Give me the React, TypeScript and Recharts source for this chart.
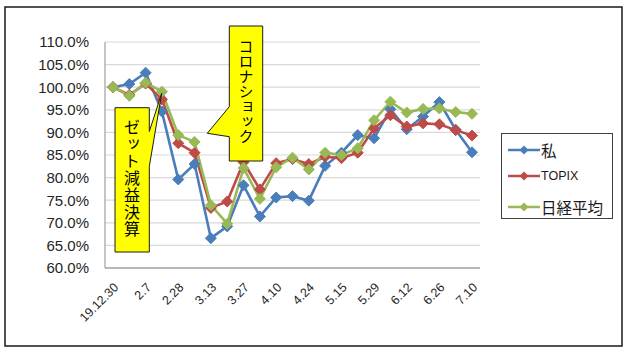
import React from "react";
import { LineChart, Line, XAxis, YAxis, CartesianGrid, Legend } from "recharts";

const categories = ["19.12.30","1.17","2.7","2.14","2.28","3.6","3.13","3.20","3.27","4.3","4.10","4.17","4.24","5.1","5.15","5.22","5.29","6.5","6.12","6.19","6.26","7.3","7.10"];
const mine = [100, 100.7, 103.2, 94.6, 79.6, 83.0, 66.6, 69.2, 78.3, 71.4, 75.6, 75.9, 74.9, 82.6, 85.5, 89.4, 88.7, 95.1, 90.7, 93.5, 96.7, 90.6, 85.6];
const topix = [100, 98.3, 100.8, 97.3, 87.6, 85.5, 73.3, 74.7, 83.4, 77.4, 83.2, 84.1, 83.0, 84.6, 84.3, 85.5, 90.9, 93.8, 91.3, 92.0, 91.8, 90.5, 89.3];
const nikkei = [100, 98.1, 101.0, 99.0, 89.4, 87.9, 73.9, 69.8, 82.1, 75.3, 82.3, 84.4, 81.8, 85.5, 85.0, 86.5, 92.7, 96.8, 94.4, 95.2, 95.3, 94.5, 94.1];
const yTicks = [60, 65, 70, 75, 80, 85, 90, 95, 100, 105, 110];
const seriesNames = ["私", "TOPIX", "日経平均"];
const seriesColors = ["#4a7ebb", "#be4b48", "#98b954"];

const data = categories.map((c, i) => ({ date: c, mine: mine[i], topix: topix[i], nikkei: nikkei[i] }));

const Diamond = (color: string) => (props: any) => {
  const { cx, cy, index } = props;
  if (cx == null || cy == null) return <g key={index} />;
  const r = 5.5;
  return (
    <polygon
      key={index}
      points={`${cx},${cy - r} ${cx + r},${cy} ${cx},${cy + r} ${cx - r},${cy}`}
      fill={color}
      stroke={color}
      strokeWidth={1}
    />
  );
};

const XTick = (props: any) => {
  const { x, y, payload } = props;
  return (
    <g transform={`translate(${x},${y + 6})`}>
      <text x={0} y={0} dy="0.7em" textAnchor="end" transform="rotate(-45)" fontSize={12.5} fill="#262626" fontFamily="'Liberation Sans', Arial, sans-serif">
        {payload.value}
      </text>
    </g>
  );
};

const YTick = (props: any) => {
  const { x, y, payload } = props;
  return (
    <text x={x} y={y} dy="0.36em" textAnchor="end" fontSize={15} fill="#262626" fontFamily="'Liberation Sans', Arial, sans-serif">
      {Number(payload.value).toFixed(1) + "%"}
    </text>
  );
};

const LegendBox = () => (
  <div style={{ position: "relative", width: 112, height: 86, border: "1px solid #404040", boxSizing: "border-box", background: "#fff" }}>
    {seriesNames.map((n, i) => {
      const cy = [16, 41.5, 72.5][i];
      return (
        <div key={n} style={{ position: "absolute", left: 0, top: cy - 12, height: 24, width: 110 }}>
          <svg width={40} height={24} style={{ position: "absolute", left: 5, top: 0 }}>
            <line x1={1} y1={12} x2={33} y2={12} stroke={seriesColors[i]} strokeWidth={2.5} />
            <polygon points="17,7.5 21.5,12 17,16.5 12.5,12" fill={seriesColors[i]} />
          </svg>
          <span
            style={{
              position: "absolute",
              left: 39,
              top: 0,
              lineHeight: "24px",
              fontSize: n === "TOPIX" ? 12.5 : 15.5,
              fontFamily: n === "TOPIX" ? "'Liberation Sans', Arial, sans-serif" : "'Noto Sans CJK JP', sans-serif",
              color: "#1a1a1a",
              whiteSpace: "nowrap",
            }}
          >
            {n}
          </span>
        </div>
      );
    })}
  </div>
);

export default function App() {
  return (
    <div style={{ position: "absolute", left: 0, top: 0, width: 628, height: 353, background: "#fff" }}>
      <LineChart width={628} height={353} data={data} margin={{ top: 42, right: 148, bottom: 55, left: 0 }}>
        <CartesianGrid horizontal={true} vertical={false} stroke="#d9d9d9" strokeWidth={1.2} />
        <XAxis
          dataKey="date"
          interval={1}
          height={30}
          padding={{ left: 8, right: 8 }}
          axisLine={{ stroke: "#a6a6a6", strokeWidth: 1.3 }}
          tickLine={false}
          tick={<XTick />}
        />
        <YAxis
          width={105}
          domain={[60, 110]}
          ticks={yTicks}
          interval={0}
          tickSize={0}
          tickMargin={16}
          axisLine={{ stroke: "#a6a6a6", strokeWidth: 1.3 }}
          tickLine={false}
          tick={<YTick />}
        />
        <Legend
          layout="horizontal"
          verticalAlign="middle"
          align="center"
          content={() => <LegendBox />}
          wrapperStyle={{ position: "absolute", left: 501, top: 133, width: 112, height: 86 }}
        />
        <Line dataKey="mine" name={seriesNames[0]} stroke={seriesColors[0]} strokeWidth={2.6} dot={Diamond(seriesColors[0])} activeDot={false} isAnimationActive={false} />
        <Line dataKey="topix" name={seriesNames[1]} stroke={seriesColors[1]} strokeWidth={2.6} dot={Diamond(seriesColors[1])} activeDot={false} isAnimationActive={false} />
        <Line dataKey="nikkei" name={seriesNames[2]} stroke={seriesColors[2]} strokeWidth={2.6} dot={Diamond(seriesColors[2])} activeDot={false} isAnimationActive={false} />
      </LineChart>
      <svg width={628} height={353} style={{ position: "absolute", left: 0, top: 0, pointerEvents: "none" }}>
        <rect x={5} y={7} width={617} height={339} fill="none" stroke="#1a1a1a" strokeWidth={1.5} />
        <polygon points="115,107.7 149.3,107.7 149.3,131.5 161.7,93.3 149.3,166.5 149.3,252 115,252" fill="#ffff00" stroke="#1a1a1a" strokeWidth={1} />
        <text x={132} y={119} fontSize={16} letterSpacing={1} fill="#000" fontFamily="'Noto Sans CJK JP', sans-serif" style={{ writingMode: "vertical-rl" as any }}>
          ゼット減益決算
        </text>
        <polygon points="229.3,26 262.7,26 262.7,161 229.3,161 229.3,136.7 207.3,133.3 229.3,106.7" fill="#ffff00" stroke="#1a1a1a" strokeWidth={1} />
        <text x={246} y={39} fontSize={15} fill="#000" fontFamily="'Noto Sans CJK JP', sans-serif" style={{ writingMode: "vertical-rl" as any }}>
          コロナショック
        </text>
      </svg>
    </div>
  );
}
